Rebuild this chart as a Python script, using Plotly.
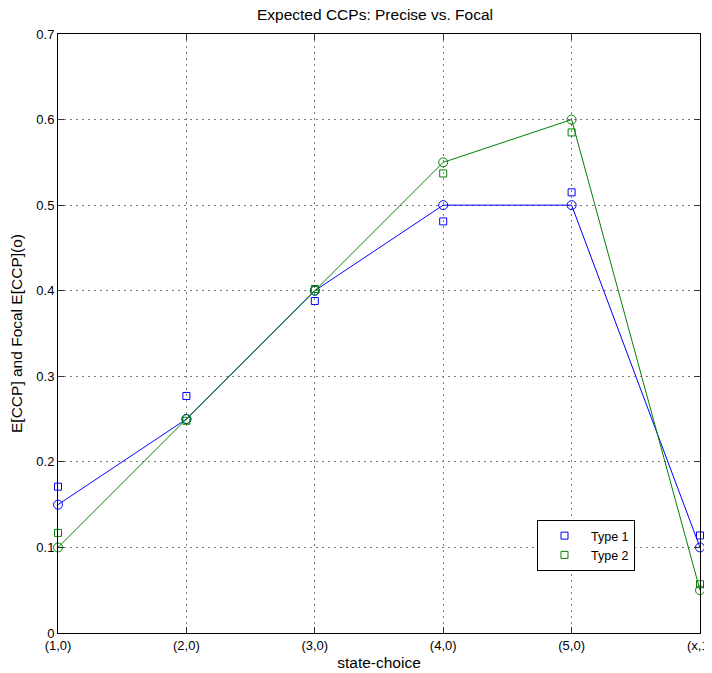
import plotly.graph_objects as go

categories = ["(1,0)", "(2,0)", "(3,0)", "(4,0)", "(5,0)", "(x,1)"]
x_pos = [1, 2, 3, 4, 5, 6]
precise_type1 = [0.15, 0.25, 0.40, 0.50, 0.50, 0.10]
precise_type2 = [0.10, 0.25, 0.40, 0.55, 0.60, 0.05]
focal_type1 = [0.171, 0.277, 0.388, 0.481, 0.515, 0.114]
focal_type2 = [0.117, 0.248, 0.402, 0.537, 0.585, 0.057]
y_ticks = [0, 0.1, 0.2, 0.3, 0.4, 0.5, 0.6, 0.7]
y_tick_labels = ["0", "0.1", "0.2", "0.3", "0.4", "0.5", "0.6", "0.7"]

BLUE = "#0000FF"
GREEN = "#008000"
FONT = "Liberation Sans, Arial, Helvetica, sans-serif"

# the page body has an 8px margin, so the figure is 8px smaller and shifted
W, H = 704, 665

fig = go.Figure()
for ys, c in [(precise_type1, BLUE), (precise_type2, GREEN)]:
    fig.add_trace(go.Scatter(
        x=x_pos, y=ys, mode="lines+markers", showlegend=False, cliponaxis=False,
        line=dict(color=c, width=1),
        marker=dict(symbol="circle-open", size=9, color=c, line=dict(width=1, color=c)),
    ))
for ys, c, name in [(focal_type1, BLUE, "Type 1"), (focal_type2, GREEN, "Type 2")]:
    fig.add_trace(go.Scatter(
        x=x_pos, y=ys, mode="markers", name=name, cliponaxis=False,
        marker=dict(symbol="square-open", size=7, color=c, line=dict(width=1, color=c)),
    ))

axis_common = dict(
    showline=True, linecolor="black", linewidth=1, mirror="ticks",
    ticks="inside", ticklen=6, tickcolor="#333333",
    showgrid=True, gridcolor="#7a7a7a", griddash="2px,4px", gridwidth=1,
    zeroline=False, automargin=False, ticklabeloverflow="allow",
    tickfont=dict(family=FONT, size=13, color="black"),
)

fig.update_layout(
    width=W, height=H,
    margin=dict(l=50, r=12, t=26, b=40, autoexpand=False),
    paper_bgcolor="white", plot_bgcolor="white",
    title=dict(text="Expected CCPs: Precise vs. Focal", x=367 / W, xanchor="center",
               y=1 - 7 / H, yanchor="middle", font=dict(family=FONT, size=15.5, color="black")),
    xaxis=dict(range=[1, 6], tickvals=x_pos, ticktext=categories,
               title=dict(text="state-choice", font=dict(family=FONT, size=15.5, color="black"), standoff=5),
               **axis_common),
    yaxis=dict(range=[0, 0.7], tickvals=y_ticks, ticktext=y_tick_labels,
               title=dict(text="E[CCP] and Focal E[CCP](o)", font=dict(family=FONT, size=15.5, color="black"), standoff=9),
               **axis_common),
    legend=dict(x=(537 - 58) / 642, y=(633 - 520) / 599, xanchor="left", yanchor="top",
                bgcolor="white", bordercolor="black", borderwidth=1, itemwidth=43,
                font=dict(family=FONT, size=12.5, color="black"), tracegroupgap=0),
)

fig.write_html("out.html")
